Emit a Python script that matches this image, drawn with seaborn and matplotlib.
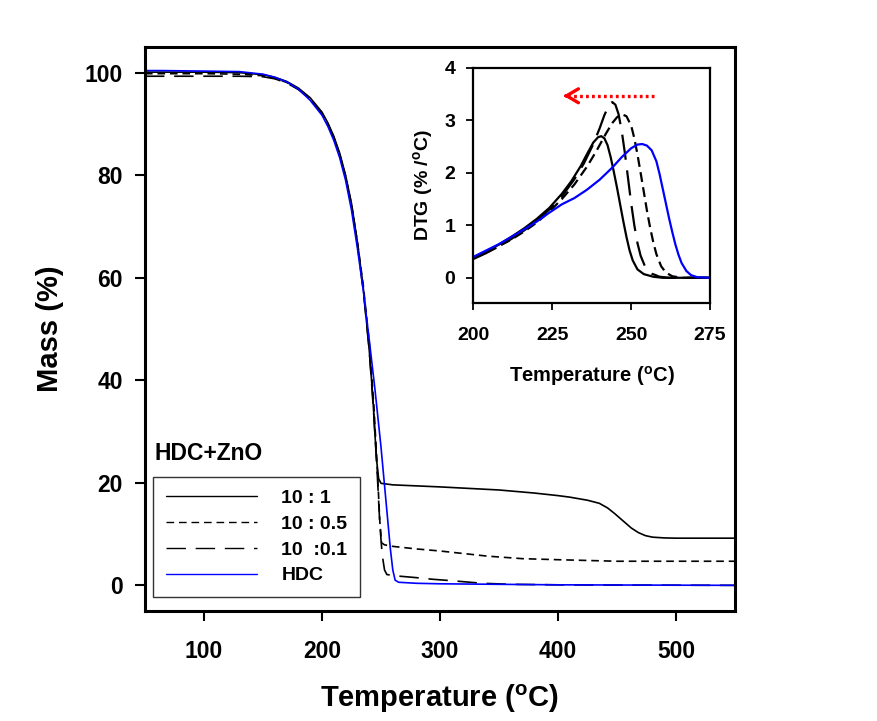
import matplotlib
matplotlib.use("Agg")
import matplotlib.pyplot as plt
import seaborn as sns
import pandas as pd
from matplotlib.lines import Line2D

# ---------------- data ----------------
series_labels = ["10 : 1", "10 : 0.5", "10  :0.1", "HDC"]

# TGA mass curves
t_101 = [50, 100, 130, 150, 160, 170, 180, 190, 200, 205, 210, 215, 220, 225, 230, 235, 240, 243, 245,
         246.5, 248, 250, 260, 300, 350, 380, 400, 410, 425, 435, 442, 448, 455, 462, 468, 474, 480, 490, 500, 550]
m_101 = [100.1, 100.1, 100, 99.6, 99.1, 98.3, 97, 95.1, 92.3, 90.2, 87.6, 84.3, 80, 74.5, 67, 58, 46, 37, 29,
         24, 20.8, 19.9, 19.6, 19.2, 18.6, 18.0, 17.5, 17.2, 16.6, 16.0, 15.1, 14.0, 12.6, 11.2, 10.3, 9.7, 9.4,
         9.25, 9.2, 9.2]

t_105 = [50, 100, 130, 150, 160, 170, 180, 190, 200, 205, 210, 215, 220, 225, 230, 235, 240, 244, 247,
         249, 250.5, 253, 260, 280, 300, 320, 340, 370, 400, 450, 500, 550]
m_105 = [99.8, 99.8, 99.7, 99.4, 98.9, 98.1, 96.8, 94.9, 92.1, 90, 87.4, 84.1, 79.8, 74.3, 67, 58.5, 47.5, 35, 22,
         12.5, 8.3, 7.9, 7.6, 7.1, 6.7, 6.2, 5.7, 5.2, 5.0, 4.7, 4.7, 4.7]

t_1001 = [50, 100, 130, 150, 160, 170, 180, 190, 200, 205, 210, 215, 220, 225, 230, 235, 240, 244, 247,
          249, 251, 253, 255, 265, 280, 293, 310, 336, 360, 400, 450, 550]
m_1001 = [99.3, 99.3, 99.3, 99.2, 98.8, 98.0, 96.7, 94.8, 92.0, 89.9, 87.3, 84.0, 79.6, 74, 66.5, 57.5, 46, 33, 21,
          12, 6, 3, 2.1, 1.8, 1.5, 1.2, 0.9, 0.4, 0.2, 0.1, 0.05, 0]

t_hdc = [50, 65, 100, 130, 150, 160, 170, 180, 190, 200, 205, 210, 215, 220, 225, 230, 235, 240, 245, 250,
         253, 256, 258, 260, 262, 265, 280, 300, 400, 550]
m_hdc = [100.4, 100.4, 100.3, 100.2, 99.7, 99.1, 98.2, 96.8, 94.6, 91.7, 89.5, 86.8, 83.4, 79, 73.2, 65.8, 57.5,
         48, 38, 27, 19.5, 12, 7, 3, 1, 0.6, 0.4, 0.3, 0.1, 0]

# DTG curves (inset)
dt_101 = [200, 204, 208, 212, 216, 220, 224, 228, 231, 234, 236, 238, 239.5, 240.5, 241.5, 242.5, 243.5, 244.5,
          245.5, 246.5, 247.5, 248.5, 249.5, 250.5, 252, 254, 257, 260, 275]
d_101 = [0.38, 0.50, 0.63, 0.78, 0.94, 1.12, 1.33, 1.60, 1.84, 2.13, 2.36, 2.58, 2.68, 2.70, 2.66, 2.53, 2.30, 2.02,
         1.72, 1.40, 1.08, 0.78, 0.52, 0.33, 0.16, 0.07, 0.02, 0.0, 0.0]

dt_1001 = [200, 204, 208, 212, 216, 220, 224, 228, 232, 235, 238, 240, 241.5, 243, 244, 245, 246, 247, 248, 249,
           250, 251, 252, 253, 254.5, 256.5, 259, 262, 275]
d_1001 = [0.36, 0.47, 0.60, 0.74, 0.90, 1.08, 1.30, 1.55, 1.88, 2.18, 2.55, 2.85, 3.10, 3.30, 3.35, 3.30, 3.12,
          2.80, 2.38, 1.90, 1.42, 1.00, 0.66, 0.42, 0.20, 0.08, 0.02, 0.0, 0.0]

dt_105 = [200, 204, 208, 212, 216, 220, 224, 228, 232, 236, 239, 242, 244, 245.5, 247, 248.5, 250, 251, 252, 253,
          254, 255, 256, 257, 258, 259.5, 261, 263, 266, 275]
d_105 = [0.37, 0.48, 0.60, 0.73, 0.88, 1.05, 1.26, 1.50, 1.78, 2.12, 2.42, 2.75, 2.95, 3.06, 3.12, 3.08, 2.90,
         2.66, 2.35, 2.00, 1.64, 1.28, 0.96, 0.68, 0.45, 0.22, 0.10, 0.03, 0.0, 0.0]

dt_hdc = [200, 204, 208, 212, 216, 220, 224, 228, 232, 236, 240, 244, 247, 250, 252, 253.5, 255, 256.5, 258, 259,
          260, 261, 262, 263, 264, 265, 266, 267.5, 269, 271, 275]
d_hdc = [0.40, 0.52, 0.64, 0.78, 0.92, 1.07, 1.24, 1.40, 1.52, 1.68, 1.87, 2.10, 2.30, 2.47, 2.54, 2.55, 2.52,
         2.43, 2.22, 1.98, 1.70, 1.42, 1.14, 0.88, 0.64, 0.44, 0.28, 0.13, 0.05, 0.01, 0.0]

main_xticks = [100, 200, 300, 400, 500]
main_yticks = [0, 20, 40, 60, 80, 100]
inset_xticks = [200, 225, 250, 275]
inset_yticks = [0, 1, 2, 3, 4]

# ---------------- style ----------------
sns.set_style("ticks")
plt.rcParams["font.family"] = ["Liberation Sans", "DejaVu Sans"]
plt.rcParams["font.weight"] = "bold"
plt.rcParams["mathtext.fontset"] = "custom"
plt.rcParams["mathtext.rm"] = "Liberation Sans:bold"
plt.rcParams["mathtext.bf"] = "Liberation Sans:bold"
plt.rcParams["lines.scale_dashes"] = False
for key in ["text.color", "axes.labelcolor", "xtick.color", "ytick.color", "axes.edgecolor"]:
    plt.rcParams[key] = "black"

colors = ["black", "black", "black", "#0000ff"]
dash_styles = [None, (5.5, 3.5), (14, 7), None]

fig = plt.figure(figsize=(8.77, 7.21), dpi=100)
ax = fig.add_axes([0.1653, 0.1526, 0.6728, 0.7822])

main_sets = [(t_101, m_101), (t_105, m_105), (t_1001, m_1001), (t_hdc, m_hdc)]
handles = []
for (tx, my), lab, col, ds in zip(main_sets, series_labels, colors, dash_styles):
    df = pd.DataFrame({"T": tx, "M": my})
    sns.lineplot(data=df, x="T", y="M", ax=ax, color=col, linewidth=1.2, sort=False, estimator=None)
    ln = ax.lines[-1]
    if ds is not None:
        ln.set_dashes(ds)
    h = Line2D([], [], color=col, linewidth=1.0)
    if ds is not None:
        h.set_dashes(ds)
    handles.append(h)

ax.set_xlim(50, 550)
ax.set_ylim(-5, 105)
ax.set_xticks(main_xticks)
ax.set_yticks(main_yticks)
for s in ax.spines.values():
    s.set_linewidth(2.2)
    s.set_color("black")
ax.tick_params(axis="both", direction="out", length=7, width=1.5, labelsize=16.5, pad=9,
               top=False, right=False, colors="black")
ax.tick_params(axis="x", pad=14)
for lbl in ax.get_xticklabels() + ax.get_yticklabels():
    lbl.set_fontweight("bold")
ax.set_xlabel(r"Temperature ($^{\mathrm{o}}$C)", fontsize=21, fontweight="bold", labelpad=14)
ax.set_ylabel("Mass (%)", fontsize=21, fontweight="bold", labelpad=15)

ax.text(58.5, 24.4, "HDC+ZnO", fontsize=16.5, fontweight="bold", va="baseline", ha="left")

leg = ax.legend(handles, series_labels, loc="lower left", bbox_to_anchor=(0.0136, 0.0248),
                borderaxespad=0, fontsize=14, handlelength=4.7, handletextpad=1.25,
                labelspacing=0.42, borderpad=0.65, frameon=True, fancybox=False)
leg.get_frame().set_edgecolor("black")
leg.get_frame().set_linewidth(1.0)
for t in leg.get_texts():
    t.set_fontweight("bold")

# ---------------- inset ----------------
axi = fig.add_axes([0.5399, 0.5798, 0.2697, 0.3259])
dtg_sets = [(dt_101, d_101), (dt_105, d_105), (dt_1001, d_1001), (dt_hdc, d_hdc)]
for (tx, dy), col, ds in zip(dtg_sets, colors, dash_styles):
    df = pd.DataFrame({"T": tx, "D": dy})
    sns.lineplot(data=df, x="T", y="D", ax=axi, color=col, linewidth=1.6, sort=False, estimator=None)
    if ds is not None:
        axi.lines[-1].set_dashes((ds[0] * 1.3, ds[1] * 1.1))

axi.set_xlim(200, 275)
axi.set_ylim(-0.48, 4.0)
axi.set_xticks(inset_xticks)
axi.set_yticks(inset_yticks)
for s in axi.spines.values():
    s.set_linewidth(1.6)
    s.set_color("black")
axi.tick_params(axis="both", direction="out", length=5, width=1.3, labelsize=14, pad=8,
                top=False, right=False, colors="black")
axi.tick_params(axis="x", pad=12)
for lbl in axi.get_xticklabels() + axi.get_yticklabels():
    lbl.set_fontweight("bold")
axi.set_xlabel(r"Temperature ($^{\mathrm{o}}$C)", fontsize=14.5, fontweight="bold", labelpad=15)
axi.set_ylabel(r"DTG (% /$^{\mathrm{o}}$C)", fontsize=14, fontweight="bold", labelpad=6)

# red dotted arrow
arrow_start = (257.3, 3.47)
arrow_end = (227.6, 3.47)
axi.plot([arrow_start[0], arrow_end[0] + 1.5], [arrow_start[1], arrow_end[1]], color="red",
         linewidth=2.4, linestyle=(0, (2.0, 2.3)))
axi.annotate("", xy=arrow_end, xytext=(arrow_end[0] + 3, arrow_end[1]),
             arrowprops=dict(arrowstyle="->,head_length=0.85,head_width=0.5", color="red", lw=2.4))

fig.savefig("out.png", dpi=100)
